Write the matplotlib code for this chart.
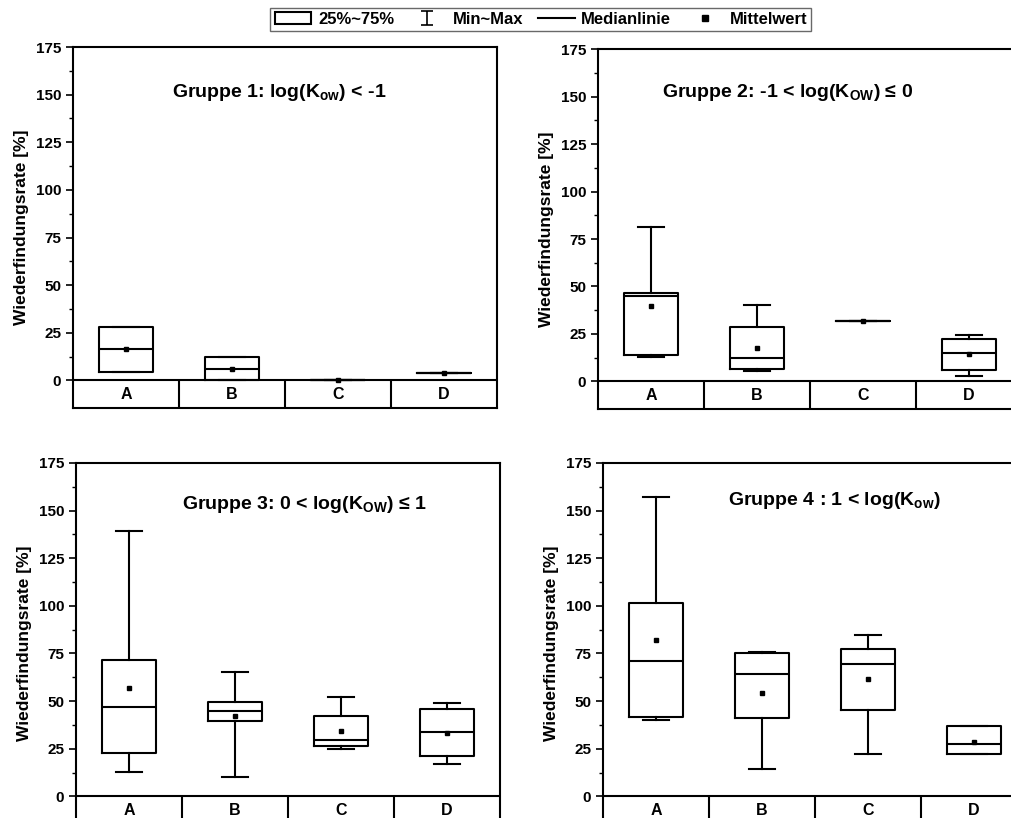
import matplotlib
matplotlib.use("Agg")
import matplotlib.pyplot as plt
from matplotlib.lines import Line2D
from matplotlib.patches import Rectangle
from matplotlib.path import Path

plt.rcParams["font.family"] = ["Liberation Sans", "DejaVu Sans"]
plt.rcParams["font.weight"] = "bold"
plt.rcParams["mathtext.fontset"] = "custom"
plt.rcParams["mathtext.rm"] = "Liberation Sans:bold"
plt.rcParams["mathtext.it"] = "Liberation Sans:bold"
plt.rcParams["mathtext.bf"] = "Liberation Sans:bold"

categories = ["A", "B", "C", "D"]
titles = [
    r"Gruppe 1: log($\mathrm{K_{ow}}$) < -1",
    r"Gruppe 2: -1 < log($\mathrm{K_{OW}}$) ≤ 0",
    r"Gruppe 3: 0 < log($\mathrm{K_{OW}}$) ≤ 1",
    r"Gruppe 4 : 1 < log($\mathrm{K_{ow}}$)",
]

# recovery rates [%] per group (rows) and method A-D (columns)
rate_min = [
    [4.4, 0.0, 0.2, 3.9],
    [13.0, 5.3, 32.0, 3.0],
    [13.0, 10.3, 24.9, 17.2],
    [39.9, 14.5, 22.4, 22.4],
]
rate_q1 = [
    [4.4, 0.0, 0.2, 3.9],
    [14.0, 6.5, 32.0, 6.1],
    [22.9, 39.4, 26.3, 21.4],
    [41.5, 41.3, 45.5, 22.4],
]
rate_median = [
    [16.3, 6.0, 0.2, 3.9],
    [45.0, 12.3, 32.0, 14.9],
    [46.9, 45.0, 29.8, 33.8],
    [70.9, 64.1, 69.5, 27.3],
]
rate_q3 = [
    [28.1, 12.3, 0.2, 3.9],
    [46.4, 28.7, 32.0, 22.2],
    [71.4, 49.4, 42.0, 45.9],
    [101.7, 75.3, 77.2, 36.9],
]
rate_max = [
    [28.1, 12.3, 0.2, 3.9],
    [81.2, 40.4, 32.0, 24.2],
    [139.1, 65.3, 52.3, 49.0],
    [157.3, 75.8, 84.5, 36.9],
]
rate_mean = [
    [16.3, 6.0, 0.3, 3.9],
    [39.7, 17.5, 32.0, 14.3],
    [56.7, 42.4, 34.1, 33.4],
    [82.3, 54.1, 61.4, 28.7],
]

# axes rectangles (figure fractions); the right panels run past the edge
panel_rects = [
    (0.0722, 0.5012, 0.4194, 0.4413),
    (0.5915, 0.5000, 0.4194, 0.4400),
    (0.0752, -0.0073, 0.4194, 0.4413),
    (0.5964, -0.0073, 0.4194, 0.4413),
]
title_xy = [(0.486, 0.873), (0.448, 0.878), (0.538, 0.884), (0.547, 0.897)]

Y_BOTTOM = -14.5
LW = 1.5

fig = plt.figure(figsize=(10.11, 8.18), dpi=100)

for g, rect in enumerate(panel_rects):
    ax = fig.add_axes(rect)
    stats = []
    for j, cat in enumerate(categories):
        stats.append({
            "label": cat,
            "whislo": rate_min[g][j],
            "q1": rate_q1[g][j],
            "med": rate_median[g][j],
            "q3": rate_q3[g][j],
            "whishi": rate_max[g][j],
            "mean": rate_mean[g][j],
        })
    line_kw = dict(color="black", linewidth=LW)
    ax.bxp(stats, positions=range(1, len(categories) + 1), widths=0.51,
           capwidths=0.25, showmeans=True, showfliers=False,
           boxprops=line_kw, whiskerprops=line_kw, capprops=line_kw,
           medianprops=line_kw,
           meanprops=dict(marker="s", markerfacecolor="black",
                          markeredgecolor="black", markersize=3.5))

    ax.set_xlim(0.5, len(categories) + 0.5)
    ax.set_ylim(Y_BOTTOM, 175)

    # category strip below zero
    ax.axhline(0, color="black", linewidth=LW)
    ax.vlines([1.5, 2.5, 3.5], Y_BOTTOM, 0, color="black", linewidth=LW)
    for j, cat in enumerate(categories):
        ax.text(j + 1, Y_BOTTOM / 2, cat, ha="center", va="center",
                fontsize=11.5, fontweight="bold")

    ax.set_xticks([])
    ax.set_yticks(range(0, 176, 25))
    ax.set_yticks([12.5 + 25 * k for k in range(7)], minor=True)
    ax.tick_params(axis="y", which="major", direction="out", length=5,
                   width=1.2, labelsize=11)
    ax.tick_params(axis="y", which="minor", direction="out", length=3,
                   width=1.0)
    for side in ax.spines.values():
        side.set_linewidth(LW)

    ax.set_ylabel("Wiederfindungsrate [%]", fontsize=12.5, fontweight="bold",
                  labelpad=5)
    tx, ty = title_xy[g]
    ax.text(tx, ty, titles[g], transform=ax.transAxes, ha="center",
            va="center", fontsize=14, fontweight="bold")

# legend with hand-built handles
ibeam = Path([(-0.45, 0.5), (0.45, 0.5), (0, 0.5), (0, -0.5),
              (-0.45, -0.5), (0.45, -0.5)],
             [Path.MOVETO, Path.LINETO, Path.MOVETO, Path.LINETO,
              Path.MOVETO, Path.LINETO])
handles = [
    Rectangle((0, 0), 1, 1, facecolor="white", edgecolor="black", linewidth=LW),
    Line2D([], [], color="black", linestyle="none", marker=ibeam,
           markersize=10, markeredgewidth=1.2, markerfacecolor="none"),
    Line2D([], [], color="black", linewidth=LW),
    Line2D([], [], color="black", linestyle="none", marker="s", markersize=4.5),
]
labels = ["25%~75%", "Min~Max", "Medianlinie", "Mittelwert"]
leg = fig.legend(handles, labels, loc="center", bbox_to_anchor=(0.535, 0.976),
                 ncol=4, frameon=True, fancybox=False, edgecolor="#444444",
                 fontsize=12, handlelength=2.2, columnspacing=0.9,
                 handletextpad=0.4, borderpad=0.25, borderaxespad=0)
leg.get_frame().set_linewidth(1.0)

fig.savefig("out.png", dpi=100)
